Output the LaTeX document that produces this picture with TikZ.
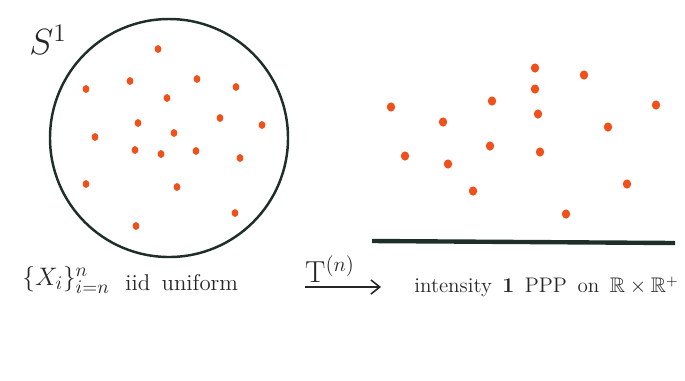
\documentclass[tikz,border=0pt]{standalone}
\usepackage{amsmath}
\usepackage{amssymb}
\usepackage{tikz}
\usetikzlibrary{arrows.meta}

\definecolor{inkgreen}{HTML}{1E2E28}
\definecolor{dotred}{HTML}{F0501A}

\tikzset{
  dot/.style={fill=dotred, draw=none},
  lbl/.style={inner sep=0pt, text=black!85}
}

\begin{document}
\begin{tikzpicture}[x=0.02cm, y=-0.02cm]
  \useasboundingbox (0,0) rectangle (685,380);
  % the circle S^1 with n uniform points
  \draw[inkgreen, line width=1.4pt] (169,138) circle (119);
  \node[lbl, font=\fontsize{22}{24}\selectfont] (s1) at (48,40) {$S^1$};
  \foreach \x/\y in {158/49, 86/89, 130/81, 197/79, 236/87, 167/98, 138/123,
      220/118, 262/125, 95/137, 174/133, 135/150, 161/154, 196/151, 240/158,
      86/184, 177/187, 235/213, 136/226}
    \fill[dot] (\x,\y) ellipse (3.4 and 3.9);
  % the half plane with the PPP points
  \draw[inkgreen, line width=2.5pt] (372,241) -- (675,243);
  \foreach \x/\y in {535/68, 584/75, 535/89, 492/101, 391/107, 656/105, 443/122,
      538/114, 608/127, 490/146, 540/152, 405/156, 448/164, 473/191, 627/184,
      566/214}
    \fill[dot] (\x,\y) ellipse (4.2 and 4.6);
  % labels below
  \node[lbl, anchor=west, font=\fontsize{15}{17}\selectfont] (xs) at (22,280) {$\{X_i\}_{i=n}^{n}$};
  \node[lbl, anchor=west, font=\fontsize{13}{15}\selectfont] (iid) at (125,283) {iid\enspace uniform};
  \coordinate (arrL) at (305,287);
  \coordinate (arrR) at (381,287);
  \draw[black!85, line width=0.9pt, -{Straight Barb[length=5pt, width=8pt]}] (arrL) -- (arrR);
  \node[lbl, font=\LARGE] (tn) at (330,269) {$\mathrm{T}^{(n)}$};
  \node[lbl, anchor=west, font=\large] (ppp) at (414,287)
    {intensity\enspace $\mathbf{1}$\enspace PPP\enspace on\enspace $\mathbb{R}\times\mathbb{R}^{+}$};
\end{tikzpicture}
\end{document}
